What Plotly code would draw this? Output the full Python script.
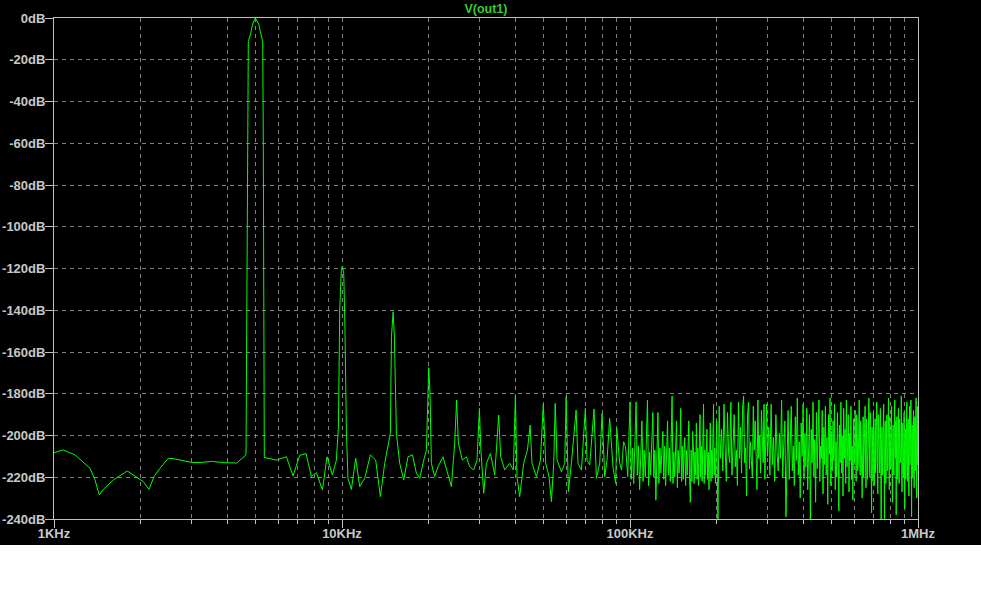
import plotly.graph_objects as go

# FFT of V(out1), frequency in kHz, level in dB

# 1 kHz .. 5.4 kHz (fundamental at 5 kHz)
f_low = [1.0, 1.077, 1.183, 1.334, 1.388, 1.436, 1.483, 1.607, 1.797, 1.911,
         2.042, 2.137, 2.225, 2.334, 2.494, 2.596, 2.776, 3.006, 3.257, 3.528,
         3.871, 4.309, 4.642, 4.690, 4.728, 4.819, 4.897, 5.0, 5.138, 5.221,
         5.305, 5.331, 5.373]
db_low = [-208.2, -206.9, -209.3, -215.7, -221.3, -228.5, -225.8, -221.3, -217.0, -219.4,
          -222.1, -225.8, -219.7, -215.7, -210.9, -211.1, -212.0, -212.9, -212.9, -212.4,
          -213.0, -213.2, -209.3, -61.6, -11.3, -7.3, -2.9, 0.0, -2.9, -7.3,
          -11.3, -61.6, -210.5]

# 5.9 kHz .. 98 kHz (harmonics at multiples of 5 kHz)
f_mid = [5.92, 6.41, 6.76, 7.13, 7.50, 7.83, 8.15, 8.55, 8.87, 9.26,
         9.56, 9.72, 9.82, 9.95, 10.03, 10.14, 10.24, 10.36, 10.49, 10.78,
         11.16, 11.52, 11.99, 12.55, 13.09, 13.59, 14.07, 14.72, 14.85, 15.05,
         15.20, 15.45, 15.86, 16.38, 16.95, 17.56, 18.13, 18.61, 19.22, 19.64,
         19.89, 20.0, 20.21, 20.43, 20.98, 21.54, 22.42, 23.15, 23.98, 24.62,
         25.0, 25.36, 26.18, 27.03, 27.76, 28.66, 29.43, 30.0, 30.31, 31.05,
         31.73, 32.76, 33.91, 35.0, 35.56, 36.72, 38.22, 39.36, 40.0, 40.51,
         41.40, 42.75, 44.04, 45.0, 45.67, 47.32, 48.86, 50.0, 50.97, 52.35,
         53.36, 54.35, 55.0, 55.80, 57.80, 59.35, 60.0, 61.12, 62.60, 65.0,
         65.98, 67.82, 70.0, 70.91, 72.46, 75.0, 76.43, 78.49, 80.0, 81.70,
         83.21, 85.0, 87.30, 89.19, 90.0, 92.09, 93.5, 95.0, 96.5, 98.2]
db_mid = [-211.8, -210.2, -219.4, -209.5, -208.6, -219.7, -217.8, -226.1, -210.2, -218.9,
          -211.8, -195.8, -139.9, -120.4, -118.8, -122.3, -149.5, -198.2, -220.5, -225.8,
          -210.9, -224.5, -220.5, -209.3, -211.8, -229.3, -213.3, -198.9, -152.7, -140.7,
          -152.7, -198.9, -213.3, -221.3, -210.2, -209.3, -218.1, -220.5, -211.8, -206.9,
          -179.8, -167.5, -179.8, -213.3, -219.7, -215.0, -210.2, -216.5, -224.5, -203.7,
          -183.0, -203.7, -211.8, -210.2, -215.0, -216.5, -211.8, -187.0, -205.4, -227.7,
          -213.3, -208.6, -218.9, -190.2, -210.2, -216.5, -213.3, -216.5, -181.0, -219.7,
          -229.3, -213.3, -206.9, -195.0, -213.3, -219.7, -211.8, -184.9, -213.3, -219.7,
          -231.7, -213.3, -184.6, -211.8, -217.3, -213.3, -181.4, -226.9, -213.3, -187.8,
          -213.3, -216.5, -187.0, -211.8, -214.1, -187.3, -220.5, -213.3, -189.4, -219.7,
          -211.8, -191.8, -215.0, -223.0, -196.6, -213.3, -216.5, -203.0, -205.4, -219.7]

# 100 kHz .. 200 kHz
f_c = [100, 101, 102, 103, 104, 105, 106, 107, 108, 109, 110, 111, 112, 113, 114, 115, 116, 117, 118, 119,
       120, 121, 122, 123, 124, 125, 126, 127, 128, 129, 130, 131, 132, 133, 134, 135, 136, 137, 138, 139,
       140, 141, 142, 143, 144, 145, 146, 147, 148, 149, 150, 151, 152, 153, 154, 155, 156, 157, 158, 159,
       160, 161, 162, 163, 164, 165, 166, 167, 168, 169, 170, 171, 172, 173, 174, 175, 176, 177, 178, 179,
       180, 181, 182, 183, 184, 185, 186, 187, 188, 189, 190, 191, 192, 193, 194, 195, 196, 197, 198, 199,
       200]
db_c = [-184, -221, -206, -223, -208, -184, -219, -205, -226, -209, -193, -222, -207, -220, -205, -183, -224, -208, -219, -206,
        -189, -220, -207, -231, -209, -189, -223, -206, -218, -208, -198, -221, -205, -224, -209, -193, -219, -206, -222, -207,
        -181, -223, -208, -220, -206, -193, -225, -207, -218, -209, -187, -222, -205, -221, -208, -201, -224, -207, -219, -206,
        -193, -220, -232, -207, -222, -198, -206, -223, -208, -219, -194, -221, -206, -224, -208, -190, -220, -205, -222, -209,
        -185, -223, -207, -219, -205, -197, -221, -208, -226, -206, -194, -222, -207, -220, -208, -185, -219, -206, -223, -209,
        -193]

# 202 kHz .. 300 kHz
f_d = [202, 204, 206, 208, 210, 212, 214, 216, 218, 220,
       222, 224, 226, 228, 230, 232, 234, 236, 238, 240,
       242, 244, 246, 248, 250, 252, 254, 256, 258, 260,
       262, 264, 266, 268, 270, 272, 274, 276, 278, 280,
       282, 284, 286, 288, 290, 292, 294, 296, 298, 300]
db_d = [-242, -186, -211, -197, -217, -185, -206, -222, -189, -209,
        -213, -184, -219, -205, -190, -215, -207, -224, -184, -211,
        -196, -218, -187, -181, -213, -206, -229, -190, -184, -216,
        -203, -212, -220, -186, -207, -193, -209, -226, -183, -211,
        -200, -218, -188, -210, -213, -185, -221, -204, -185, -210]

# 303 kHz .. 600 kHz
f_e = [303, 306, 309, 312, 315, 318, 321, 324, 327, 330,
       333, 336, 339, 342, 345, 348, 351, 354, 357, 360,
       363, 366, 369, 372, 375, 378, 381, 384, 387, 390,
       393, 396, 399, 402, 405, 408, 411, 414, 417, 420,
       423, 426, 429, 432, 435, 438, 441, 444, 447, 450,
       453, 456, 459, 462, 465, 468, 471, 474, 477, 480,
       483, 486, 489, 492, 495, 498, 501, 504, 507, 510,
       513, 516, 519, 522, 525, 528, 531, 534, 537, 540,
       543, 546, 549, 552, 555, 558, 561, 564, 567, 570,
       573, 576, 579, 582, 585, 588, 591, 594, 597, 600]
db_e = [-196, -219, -185, -214, -201, -222, -190, -208, -217, -199,
        -211, -183, -220, -204, -193, -239, -215, -188, -221, -200,
        -186, -217, -205, -224, -191, -212, -182, -219, -203, -230,
        -194, -210, -185, -221, -199, -215, -187, -226, -206, -190,
        -243, -197, -213, -184, -220, -202, -232, -189, -216, -198,
        -183, -222, -205, -211, -188, -228, -196, -214, -186, -219,
        -201, -233, -190, -209, -182, -224, -198, -217, -193, -212,
        -185, -226, -203, -220, -189, -207, -236, -195, -213, -184,
        -218, -200, -229, -187, -211, -197, -223, -183, -215, -204,
        -190, -227, -199, -212, -186, -221, -205, -231, -192, -214]

# 602.5 kHz .. 1 MHz
f_f = [602.5, 605, 607.5, 610, 612.5, 615, 617.5, 620, 622.5, 625,
       627.5, 630, 632.5, 635, 637.5, 640, 642.5, 645, 647.5, 650,
       652.5, 655, 657.5, 660, 662.5, 665, 667.5, 670, 672.5, 675,
       677.5, 680, 682.5, 685, 687.5, 690, 692.5, 695, 697.5, 700,
       702.5, 705, 707.5, 710, 712.5, 715, 717.5, 720, 722.5, 725,
       727.5, 730, 732.5, 735, 737.5, 740, 742.5, 745, 747.5, 750,
       752.5, 755, 757.5, 760, 762.5, 765, 767.5, 770, 772.5, 775,
       777.5, 780, 782.5, 785, 787.5, 790, 792.5, 795, 797.5, 800,
       802.5, 805, 807.5, 810, 812.5, 815, 817.5, 820, 822.5, 825,
       827.5, 830, 832.5, 835, 837.5, 840, 842.5, 845, 847.5, 850,
       852.5, 855, 857.5, 860, 862.5, 865, 867.5, 870, 872.5, 875,
       877.5, 880, 882.5, 885, 887.5, 890, 892.5, 895, 897.5, 900,
       902.5, 905, 907.5, 910, 912.5, 915, 917.5, 920, 922.5, 925,
       927.5, 930, 932.5, 935, 937.5, 940, 942.5, 945, 947.5, 950,
       952.5, 955, 957.5, 960, 962.5, 965, 967.5, 970, 972.5, 975,
       977.5, 980, 982.5, 985, 987.5, 990, 992.5, 995, 997.5, 1000]
db_f = [-212, -188, -205, -222, -190, -196, -217, -214, -199, -183,
        -210, -219, -193, -201, -216, -230, -204, -191, -220, -210,
        -197, -186, -213, -225, -192, -198, -221, -215, -200, -182,
        -209, -220, -189, -194, -214, -237, -196, -203, -222, -189,
        -207, -224, -195, -192, -218, -212, -185, -184, -211, -228,
        -190, -199, -216, -218, -198, -187, -214, -243, -202, -196,
        -219, -209, -193, -185, -215, -241, -200, -193, -223, -221,
        -194, -190, -217, -213, -199, -182, -212, -226, -191, -200,
        -206, -216, -197, -186, -220, -232, -201, -195, -215, -219,
        -196, -183, -209, -211, -193, -238, -203, -191, -221, -214,
        -198, -187, -217, -223, -192, -198, -213, -212, -204, -181,
        -211, -227, -195, -194, -218, -220, -200, -189, -216, -235,
        -199, -197, -221, -215, -190, -184, -212, -222, -196, -192,
        -219, -229, -202, -186, -214, -210, -193, -183, -208, -239,
        -201, -195, -220, -218, -194, -188, -215, -225, -197, -191,
        -217, -212, -190, -182, -211, -230, -199, -186, -214, -197]

x_tick_vals = [1, 10, 100, 1000]
x_tick_text = ["1KHz", "10KHz", "100KHz", "1MHz"]
y_tick_vals = [0, -20, -40, -60, -80, -100, -120, -140, -160, -180, -200, -220, -240]
y_tick_text = ["0dB", "-20dB", "-40dB", "-60dB", "-80dB", "-100dB", "-120dB",
               "-140dB", "-160dB", "-180dB", "-200dB", "-220dB", "-240dB"]

freq = f_low + f_mid + f_c + f_d + f_e + f_f
level = db_low + db_mid + db_c + db_d + db_e + db_f
assert len(freq) == len(level)

minor_vals = [m * d for d in (1, 10, 100) for m in range(2, 10)]

grid = "#808080"
axis_col = "#c0c0c0"
tick_font = dict(family="Liberation Sans", size=13, color="#c8c8c8", weight="bold")

fig = go.Figure()
fig.add_trace(go.Scatter(x=freq, y=level, mode="lines",
                         line=dict(color="#00ff00", width=1), name="V(out1)"))

fig.update_layout(
    width=981, height=614,
    paper_bgcolor="black", plot_bgcolor="black",
    margin=dict(l=54, r=63, t=18, b=95),
    showlegend=False,
    title=dict(text="V(out1)", x=0.5, xref="paper", xanchor="center",
               y=1 - 9 / 614, yref="container", yanchor="middle",
               font=dict(family="Liberation Sans", size=12.5, color="#33cc33", weight="bold")),
    xaxis=dict(type="log", range=[0, 3], automargin=False,
               tickvals=x_tick_vals, ticktext=x_tick_text, ticklabelstandoff=-6,
               showgrid=True, gridcolor=grid, griddash="4px,4px", gridwidth=1,
               showline=True, linecolor=axis_col, linewidth=1, mirror=True,
               ticks="outside", ticklen=8, tickcolor=axis_col, tickfont=tick_font,
               zeroline=False,
               minor=dict(tickvals=minor_vals, ticks="outside", ticklen=4, tickcolor=axis_col,
                          showgrid=True, gridcolor=grid, griddash="4px,4px", gridwidth=1)),
    yaxis=dict(range=[-240, 0], automargin=False,
               tickvals=y_tick_vals, ticktext=y_tick_text, ticklabelstandoff=-3,
               showgrid=True, gridcolor=grid, griddash="4px,4px", gridwidth=1,
               showline=True, linecolor=axis_col, linewidth=1, mirror=True,
               ticks="outside", ticklen=8, tickcolor=axis_col, tickfont=tick_font,
               zeroline=False),
    # white strip below the black plot window
    shapes=[dict(type="rect", xref="paper", yref="paper",
                 x0=-0.2, x1=1.2, y0=-26 / 501, y1=-0.3,
                 fillcolor="white", line=dict(width=0), layer="above")],
)

fig.write_html("out.html", config={"displayModeBar": False},
               post_script="document.body.style.margin = '0';")
